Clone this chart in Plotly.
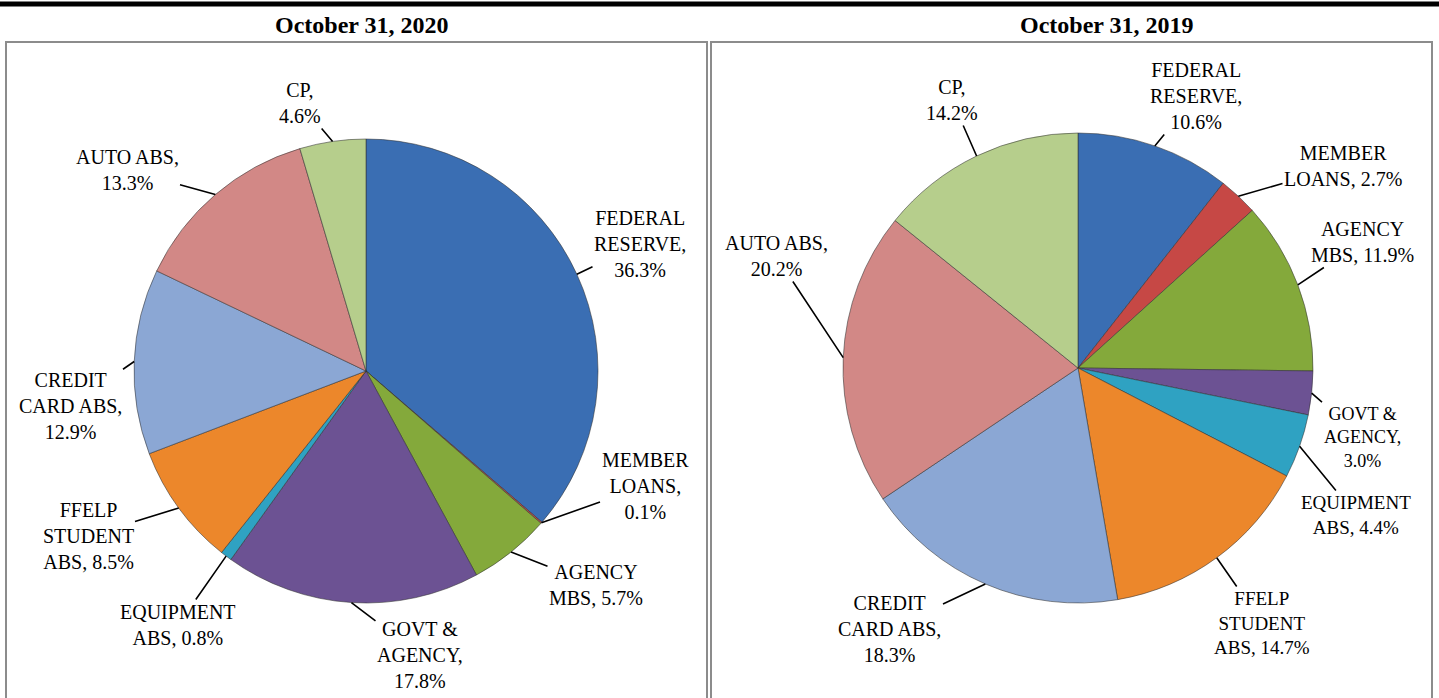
import math
import plotly.graph_objects as go

W, H = 1439, 698

categories = ["FEDERAL RESERVE", "MEMBER LOANS", "AGENCY MBS", "GOVT & AGENCY",
              "EQUIPMENT ABS", "FFELP STUDENT ABS", "CREDIT CARD ABS", "AUTO ABS", "CP"]
values_2020 = [36.3, 0.1, 5.7, 17.8, 0.8, 8.5, 12.9, 13.3, 4.6]
values_2019 = [10.6, 2.7, 11.9, 3.0, 4.4, 14.7, 18.3, 20.2, 14.2]
titles = ["October 31, 2020", "October 31, 2019"]

# label wrapping (display names and separator before the percentage)
names_2020 = ["FEDERAL<br>RESERVE", "MEMBER<br>LOANS", "AGENCY<br>MBS", "GOVT &<br>AGENCY",
              "EQUIPMENT<br>ABS", "FFELP<br>STUDENT<br>ABS", "CREDIT<br>CARD ABS", "AUTO ABS", "CP"]
seps_2020 = ["<br>", "<br>", " ", "<br>", " ", " ", "<br>", "<br>", "<br>"]
names_2019 = ["FEDERAL<br>RESERVE", "MEMBER<br>LOANS", "AGENCY<br>MBS", "GOVT &<br>AGENCY",
              "EQUIPMENT<br>ABS", "FFELP<br>STUDENT<br>ABS", "CREDIT<br>CARD ABS", "AUTO ABS", "CP"]
seps_2019 = ["<br>", " ", " ", "<br>", " ", " ", "<br>", "<br>", "<br>"]

colors = ["#3A6EB3", "#C64845", "#84A93B", "#6C5293", "#2FA2C2",
          "#EC872B", "#8BA7D4", "#D28886", "#B6CE8C"]

# layout (pixels): pie centers/radii and label centers
pies = [dict(cx=366, cy=371, r=232), dict(cx=1078, cy=368, r=235)]
label_pos_2020 = [(640, 244), (645, 486), (596, 585), (420, 655), (178, 625),
                  (88, 536), (70, 406), (127, 170), (300, 103)]
label_pos_2019 = [(1196, 96), (1343, 166), (1362, 242), (1362, 437), (1356, 515),
                  (1262, 623), (890, 629), (776, 256), (952, 100)]
label_size_2019 = [20, 20, 20, 18, 19, 19, 20, 20, 20]
title_pos = [(362, 25), (1107, 25)]

FONT = "Liberation Serif, Times New Roman, serif"


def px(x):
    return x / W


def py(y):
    return 1 - y / H


fig = go.Figure()
annotations = []
datasets = [
    (values_2020, names_2020, seps_2020, label_pos_2020, [20] * 9),
    (values_2019, names_2019, seps_2019, label_pos_2019, label_size_2019),
]
for k, (vals, names, seps, lpos, lsize) in enumerate(datasets):
    p = pies[k]
    fig.add_trace(go.Pie(
        labels=categories, values=vals, sort=False, direction="clockwise", rotation=0,
        marker=dict(colors=colors, line=dict(color="rgba(50,50,50,0.55)", width=1)),
        textinfo="none", showlegend=False, hoverinfo="label+percent",
        domain=dict(x=[px(p["cx"] - p["r"]), px(p["cx"] + p["r"])],
                    y=[py(p["cy"] + p["r"]), py(p["cy"] - p["r"])]),
    ))
    total = sum(vals)
    cum = 0.0
    for i, v in enumerate(vals):
        mid = (cum + v / 2) / total * 2 * math.pi
        cum += v
        ex = p["cx"] + p["r"] * math.sin(mid)
        ey = p["cy"] - p["r"] * math.cos(mid)
        tx, ty = lpos[i]
        text = f"{names[i]},{seps[i]}{v:.1f}%"
        annotations.append(dict(
            x=px(ex), y=py(ey), xref="paper", yref="paper",
            ax=tx - ex, ay=ty - ey, axref="pixel", ayref="pixel",
            text=text, showarrow=True, arrowhead=0, arrowwidth=1.6, arrowcolor="black",
            standoff=0, startstandoff=0, align="center",
            font=dict(family=FONT, size=lsize[i], color="black"),
        ))

for k, t in enumerate(titles):
    tx, ty = title_pos[k]
    annotations.append(dict(
        x=px(tx), y=py(ty), xref="paper", yref="paper", text=f"<b>{t}</b>",
        showarrow=False, xanchor="center", yanchor="middle",
        font=dict(family=FONT, size=24, color="black"),
    ))

shapes = [
    dict(type="line", xref="paper", yref="paper", x0=0, x1=1, y0=py(4), y1=py(4),
         line=dict(color="black", width=5)),
    dict(type="rect", xref="paper", yref="paper", x0=px(6), x1=px(707), y0=py(702), y1=py(42),
         line=dict(color="#8c8c8c", width=2)),
    dict(type="rect", xref="paper", yref="paper", x0=px(711), x1=px(1432), y0=py(702), y1=py(42),
         line=dict(color="#8c8c8c", width=2)),
]

fig.update_layout(
    width=W, height=H, margin=dict(l=0, r=0, t=0, b=0),
    paper_bgcolor="white", plot_bgcolor="white",
    annotations=annotations, shapes=shapes,
    font=dict(family=FONT),
)
fig.write_html("out.html", config={"displayModeBar": False},
               post_script="document.body.style.margin='0';document.body.style.overflow='hidden';")
